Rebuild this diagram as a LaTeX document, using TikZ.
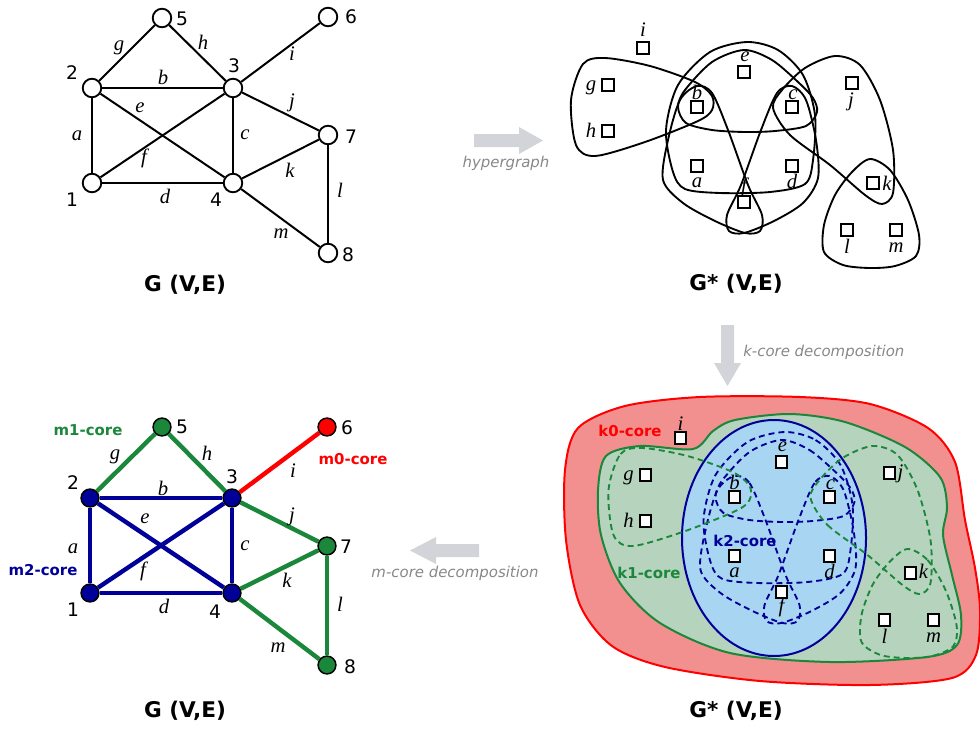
\documentclass[tikz,border=0pt]{standalone}
\usepackage{fontspec}
\setmainfont{DejaVu Sans}
\newfontfamily\lserif{Liberation Serif}
\definecolor{cblue}{RGB}{0,0,153}
\definecolor{cgreen}{RGB}{26,135,58}
\definecolor{cred}{RGB}{255,0,0}
\definecolor{fred}{RGB}{242,144,144}
\definecolor{fgreen}{RGB}{182,211,190}
\definecolor{fblue}{RGB}{168,214,242}
\definecolor{agray}{RGB}{211,212,217}
\definecolor{tgray}{RGB}{136,136,136}
\newcommand\hyperset[2]{%
  \draw[#1] plot[smooth cycle] coordinates {(747,42) (778,50) (803,75) (815,115) (813,160) (805,184) (770,192) (720,193) (685,189) (673,172) (666,130) (678,85) (710,52)};
  \draw[#1] plot[smooth cycle] coordinates {(744,50) (772,60) (798,82) (813,98) (817,112) (806,126) (775,131) (745,132) (712,130) (686,123) (678,107) (685,90) (712,62)};
  \draw[#1] plot[smooth cycle] coordinates {(697,86) (712,93) (728,130) (748,185) (762,215) (760,231) (745,233) (715,221) (683,203) (663,180) (668,140) (680,100)};
  \draw[#1] plot[smooth cycle] coordinates {(792,86) (777,93) (761,130) (741,185) (727,215) (729,231) (744,233) (774,221) (803,203) (818,178) (816,140) (806,100)};
  \draw[#2] plot[smooth cycle] coordinates {(571,100) (583,64) (605,58) (650,66) (695,82) (712,96) (712,110) (698,121) (645,142) (595,156) (576,145)};
  \draw[#2] plot[smooth cycle] coordinates {(773,108) (790,135) (830,165) (865,195) (882,204) (893,193) (893,150) (880,100) (860,65) (835,56) (805,68) (782,90)};
  \draw[#2] plot[smooth cycle] coordinates {(870,159) (890,170) (908,200) (919,235) (916,256) (895,266) (870,268) (843,265) (824,252) (824,225) (835,195) (852,172)};
}
\begin{document}
\begin{tikzpicture}[x=0.75pt,y=-0.75pt,
  vtx/.style={circle,draw=black,fill=white,line width=1.4pt,minimum size=13.9pt,inner sep=0pt},
  cvtx/.style={circle,draw=black,line width=1.1pt,minimum size=13.4pt,inner sep=0pt},
  gedge/.style={line width=1.5pt},
  cedge/.style={line width=3.3pt},
  num/.style={font=\fontsize{14}{16}\selectfont,inner sep=0pt},
  elab/.style={font=\lserif\itshape\fontsize{15.5}{17}\selectfont,inner sep=0pt,anchor=base},
  title/.style={font=\bfseries\fontsize{16.2}{18}\selectfont,inner sep=0pt},
  core/.style={font=\bfseries\fontsize{11.2}{13}\selectfont,inner sep=0pt},
  alab/.style={font=\itshape\fontsize{11.2}{13}\selectfont,text=tgray,inner sep=0pt},
  sq/.style={draw=black,fill=white,line width=1.4pt,minimum size=8.6pt,inner sep=0pt},
  hyp/.style={draw=black,line width=1.4pt},
  bdash/.style={draw=cblue,line width=1.4pt,dash pattern=on 4.5pt off 3pt},
  gdash/.style={draw=cgreen,line width=1.4pt,dash pattern=on 4.5pt off 3pt},
  bigarrow/.style={fill=agray}
]
\useasboundingbox (0,0) rectangle (980,728);

% ---------------- top-left graph ----------------
\node[vtx] (t1) at (92,183) {};
\node[vtx] (t2) at (92,88) {};
\node[vtx] (t3) at (233,88) {};
\node[vtx] (t4) at (233,183) {};
\node[vtx] (t5) at (162,18) {};
\node[vtx] (t6) at (328,17) {};
\node[vtx] (t7) at (328,135) {};
\node[vtx] (t8) at (328,253) {};
\draw[gedge] (t1) -- (t2);
\draw[gedge] (t2) -- (t3);
\draw[gedge] (t3) -- (t4);
\draw[gedge] (t1) -- (t4);
\draw[gedge] (t2) -- (t4);
\draw[gedge] (t1) -- (t3);
\draw[gedge] (t2) -- (t5);
\draw[gedge] (t5) -- (t3);
\draw[gedge] (t3) -- (t6);
\draw[gedge] (t3) -- (t7);
\draw[gedge] (t4) -- (t7);
\draw[gedge] (t7) -- (t8);
\draw[gedge] (t4) -- (t8);
\node[num] (tn1) at (72,200) {1};
\node[num] (tn2) at (72,73) {2};
\node[num] (tn3) at (234,66) {3};
\node[num] (tn4) at (216,200) {4};
\node[num] (tn5) at (182,19) {5};
\node[num] (tn6) at (351,17) {6};
\node[num] (tn7) at (351,137) {7};
\node[num] (tn8) at (348,255) {8};
\foreach \n/\x/\y in {g/119/50, h/203/49, i/292/60, b/163/84, e/140/112, j/292/107, a/77/140, c/245/139, f/144/163, k/290/177, d/165/203, l/340/197, m/281/238}
  \node[elab] (te\n) at (\x,\y) {\n};
\node[title] (tt1) at (185,285) {G (V,E)};

% ---------------- bottom-left graph ----------------
\node[cvtx,fill=cblue] (b1) at (90,593) {};
\node[cvtx,fill=cblue] (b2) at (90,498) {};
\node[cvtx,fill=cblue] (b3) at (232,498) {};
\node[cvtx,fill=cblue] (b4) at (232,593) {};
\node[cvtx,fill=cgreen] (b5) at (162,427) {};
\node[cvtx,fill=cred] (b6) at (327,427) {};
\node[cvtx,fill=cgreen] (b7) at (327,546) {};
\node[cvtx,fill=cgreen] (b8) at (327,665) {};
\draw[cedge,cblue] (b1) -- (b2);
\draw[cedge,cblue] (b2) -- (b3);
\draw[cedge,cblue] (b3) -- (b4);
\draw[cedge,cblue] (b1) -- (b4);
\draw[cedge,cblue] (b2) -- (b4);
\draw[cedge,cblue] (b1) -- (b3);
\draw[cedge,cgreen] (b2) -- (b5);
\draw[cedge,cgreen] (b5) -- (b3);
\draw[cedge,cred] (b3) -- (b6);
\draw[cedge,cgreen] (b3) -- (b7);
\draw[cedge,cgreen] (b4) -- (b7);
\draw[cedge,cgreen] (b7) -- (b8);
\draw[cedge,cgreen] (b4) -- (b8);
\node[num] (bn1) at (73,610) {1};
\node[num] (bn2) at (73,483) {2};
\node[num] (bn3) at (232,477) {3};
\node[num] (bn4) at (215,612) {4};
\node[num] (bn5) at (182,427) {5};
\node[num] (bn6) at (347,428) {6};
\node[num] (bn7) at (346,547) {7};
\node[num] (bn8) at (350,667) {8};
\foreach \n/\x/\y in {g/115/459, h/207/460, i/293/477, b/163/495, e/145/523, j/292/521, a/73/553, c/245/550, f/143/576, k/287/587, d/164/613, l/340/611, m/278/652}
  \node[elab] (be\n) at (\x,\y) {\n};
\node[core,text=cgreen] (m1) at (88,430) {m1-core};
\node[core,text=cred] (m0) at (353,459) {m0-core};
\node[core,text=cblue] (m2) at (43,570) {m2-core};
\node[title] (tt2) at (185,711) {G (V,E)};

% ---------------- top-right hypergraph ----------------
\hyperset{hyp}{hyp}
\foreach \n/\x/\y in {i/643/48, g/608/85, h/608/131, e/744/72, b/697/107, c/792/107, j/852/83, a/697/166, d/792/166, f/744/202, k/873/183, l/847/230, m/896/230}
  \node[sq] (h\n) at (\x,\y) {};
\foreach \n/\x/\y in {i/643/36, g/591/90, h/591/137, e/745/61, b/697/99, c/793/99, j/851/106, a/697/187, d/792/188, f/744/192, k/887/190, l/847/253, m/896/252}
  \node[elab] (hl\n) at (\x,\y) {\n};
\node[title] (tt3) at (736,284) {G* (V,E)};

% ---------------- bottom-right k-core ----------------
\fill[fred] plot[smooth cycle] coordinates {(565,470) (578,428) (625,406) (700,397) (800,397) (870,404) (928,428) (955,462) (965,520) (975,568) (980,610) (976,655) (952,678) (870,685) (760,681) (665,667) (612,646) (580,605) (566,540)};
\draw[cred,line width=1.5pt] plot[smooth cycle] coordinates {(565,470) (578,428) (625,406) (700,397) (800,397) (870,404) (928,428) (955,462) (965,520) (975,568) (980,610) (976,655) (952,678) (870,685) (760,681) (665,667) (612,646) (580,605) (566,540)};
\draw[cgreen,fill=fgreen,line width=1.5pt] plot[smooth cycle] coordinates {(598,490) (606,456) (640,446) (693,449) (713,431) (735,420) (790,414) (845,422) (905,447) (940,477) (947,507) (943,535) (952,575) (961,615) (957,645) (927,657) (830,662) (730,653) (660,623) (620,583) (601,535)};
\draw[cblue,fill=fblue,line width=1.5pt] (774,538) ellipse [x radius=92, y radius=118];
\begin{scope}[shift={(37.5,390)}]
  \hyperset{bdash}{gdash}
  \foreach \n/\x/\y in {i/643/48, g/608/85, h/608/131, e/744/72, b/697/107, c/792/107, j/852/83, a/697/166, d/792/166, f/744/202, k/873/183, l/847/230, m/896/230}
    \node[sq] (k\n) at (\x,\y) {};
  \foreach \n/\x/\y in {i/643/40, g/591/90, h/591/137, e/745/61, b/697/99, c/793/99, j/863/88, a/697/187, d/792/188, f/744/222, k/886/188, l/847/253, m/896/252}
    \node[elab] (kl\n) at (\x,\y) {\n};
\end{scope}
\node[core,text=cred] (k0) at (630,431) {k0-core};
\node[core,text=cgreen] (k1) at (649,573) {k1-core};
\node[core,text=cblue] (k2) at (745,541) {k2-core};
\node[title] (tt4) at (736,711) {G* (V,E)};

% ---------------- big arrows ----------------
\fill[bigarrow] (474,134) -- (519,134) -- (519,127) -- (543,140.5) -- (519,154) -- (519,147) -- (474,147) -- cycle;
\node[alab] (ah) at (506,163) {hypergraph};
\fill[bigarrow] (721,325) -- (721,363) -- (714,363) -- (727.5,386) -- (741,363) -- (734,363) -- (734,325) -- cycle;
\node[alab,anchor=west] (ak) at (743,352) {k-core decomposition};
\fill[bigarrow] (479,544) -- (436,544) -- (436,537) -- (410,550.5) -- (436,564) -- (436,557) -- (479,557) -- cycle;
\node[alab] (am) at (455,573) {m-core decomposition};
\end{tikzpicture}
\end{document}
